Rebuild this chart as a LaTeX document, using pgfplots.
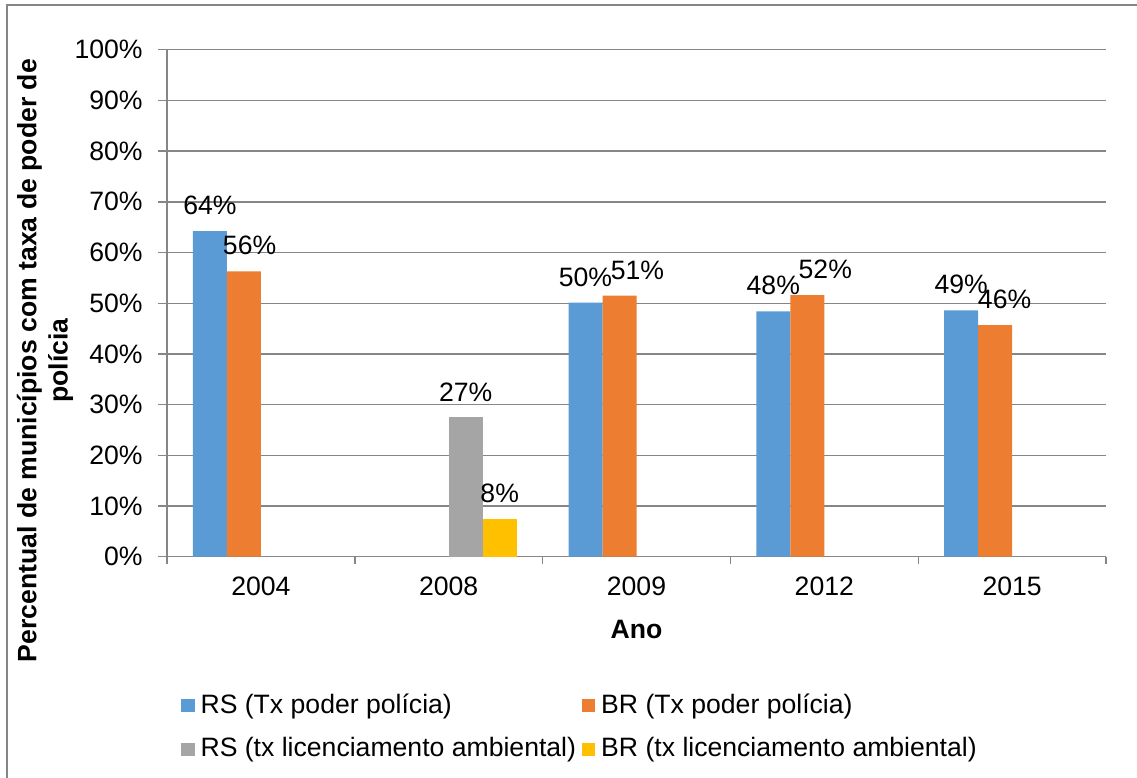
\documentclass[border=0pt]{standalone}
\usepackage{pgfplots}
\pgfplotsset{compat=1.18}
\usepackage{fontspec}
\setmainfont{Liberation Sans}
\definecolor{cblue}{RGB}{91,155,213}
\definecolor{corange}{RGB}{237,125,49}
\definecolor{cgray}{RGB}{165,165,165}
\definecolor{cyellow}{RGB}{255,192,0}
\definecolor{gridc}{RGB}{134,134,134}
\begin{document}
\fontsize{13.3bp}{15.6bp}\selectfont
\begin{tikzpicture}
\path[use as bounding box] (0,0) rectangle (568.5bp,-389bp);
\draw[gridc,line width=0.7bp] (3.5bp,-389bp) -- (3.5bp,-2.5bp) -- (568.5bp,-2.5bp);
\begin{axis}[
  at={(83.5bp,-278.35bp)}, anchor=south west,
  scale only axis, width=469.5bp, height=253.5bp,
  xmin=-0.5, xmax=4.5, ymin=0, ymax=100,
  axis x line*=bottom, axis y line*=left,
  axis line style={gridc, line width=0.7bp},
  ytick={0,10,...,100},
  yticklabel={\pgfmathprintnumber{\tick}\%},
  /pgf/number format/assume math mode=true,
  xtick={0,1,2,3,4},
  xticklabels={2004,2008,2009,2012,2015},
  minor xtick={-0.5,0.5,1.5,2.5,3.5,4.5},
  major x tick style={draw=none},
  tick align=outside,
  major tick length=4.5bp, minor tick length=3.5bp,
  tick style={gridc, line width=0.7bp},
  ymajorgrids, major grid style={gridc, line width=0.7bp},
  ticklabel style={font=\fontsize{13.3bp}{15.6bp}\selectfont},
  yticklabel style={anchor=east, inner sep=0pt, xshift=-7.5bp},
  xticklabel style={anchor=north, inner sep=0pt, yshift=-5.5bp},
  xlabel={Ano},
  xlabel style={font=\bfseries\fontsize{13.3bp}{15.6bp}\selectfont, at={(axis description cs:0.5,-0.144)}, anchor=center},
  ylabel={Percentual de municípios com taxa de poder de\\polícia},
  ylabel style={font=\bfseries\fontsize{13.3bp}{15.6bp}\selectfont, align=center, at={(axis description cs:-0.1299,0.3866)}, anchor=center},
  ybar, bar width=0.181,
  nodes near coords, point meta=explicit symbolic,
  nodes near coords style={anchor=south, inner sep=0pt, yshift=7.85bp, font=\fontsize{13.3bp}{15.6bp}\selectfont, black},
  legend columns=2,
  legend cell align=left,
  legend style={draw=none, fill=none, inner sep=0pt, at={(axis description cs:0.0149,-0.262)}, anchor=north west,
    font=\fontsize{13.3bp}{15.6bp}\selectfont,
    row sep=6bp,
    /tikz/every odd column/.append style={column sep=1bp},
    /tikz/every even column/.append style={column sep=1bp}},
  legend image code/.code={\fill[#1] (0bp,-3.3bp) rectangle (6.6bp,3.3bp);},
]
\addplot[fill=cblue, draw=none, bar shift=-0.2715] coordinates {(0,64.2) [64\%] (2,50.1) [50\%] (3,48.4) [48\%] (4,48.6) [49\%]};
\addplot[fill=corange, draw=none, bar shift=-0.0905] coordinates {(0,56.3) [\hspace*{5.7bp}56\%] (2,51.5) [\hspace*{18bp}51\%] (3,51.6) [\hspace*{18bp}52\%] (4,45.7) [\hspace*{9.5bp}46\%]};
\addplot[fill=cgray, draw=none, bar shift=0.0905] coordinates {(1,27.5) [27\%]};
\addplot[fill=cyellow, draw=none, bar shift=0.2715] coordinates {(1,7.4) [8\%]};
\legend{RS (Tx poder polícia),BR (Tx poder polícia),RS (tx licenciamento ambiental),BR (tx licenciamento ambiental)}
\end{axis}
\end{tikzpicture}
\end{document}
